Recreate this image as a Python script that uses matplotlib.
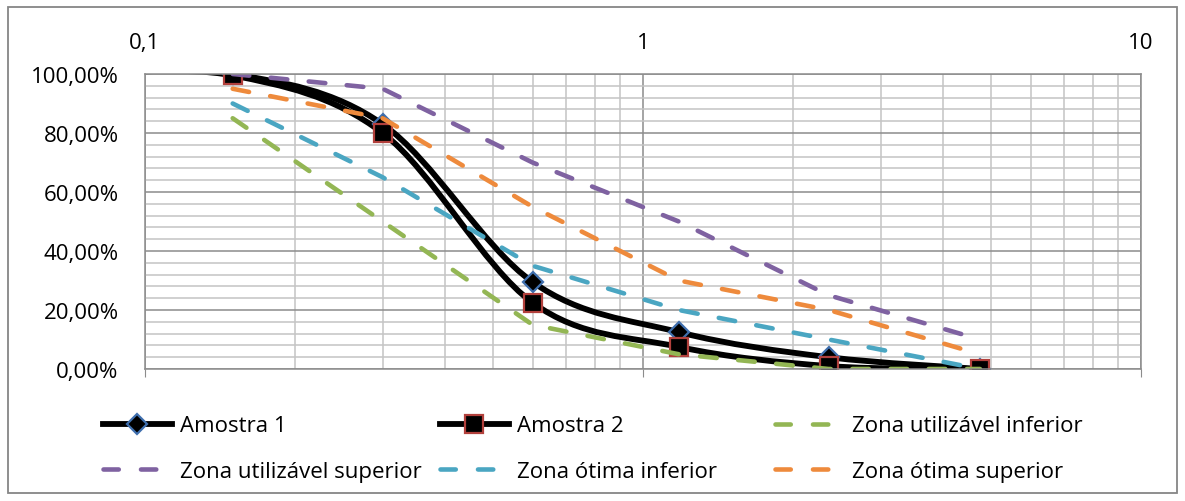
"""Curva granulométrica — Amostras 1 e 2 vs zonas da NBR 7211."""
import matplotlib
matplotlib.use("Agg")
import matplotlib.pyplot as plt
import numpy as np
from matplotlib.lines import Line2D
from matplotlib.patches import PathPatch, Rectangle
from matplotlib.path import Path
from matplotlib.ticker import FixedLocator, FuncFormatter, MultipleLocator

plt.rcParams["font.family"] = ["Open Sans", "DejaVu Sans"]
plt.rcParams["lines.scale_dashes"] = False

# sieve openings (mm) and cumulative % retained
SIEVES = [0.075, 0.15, 0.3, 0.6, 1.18, 2.36, 4.75]
AMOSTRA_1 = [100, 100, 83, 29.5, 12.5, 4, 0]
AMOSTRA_2 = [100, 99.5, 80, 22.5, 7.5, 1, 0]

ZONE_SIEVES = [0.15, 0.3, 0.6, 1.18, 2.36, 4.75]
UTIL_INF = [85, 50, 15, 5, 0, 0]
UTIL_SUP = [100, 95, 70, 50, 25, 10]
OTIMA_INF = [90, 65, 35, 20, 10, 0]
OTIMA_SUP = [95, 85, 55, 30, 20, 5]

X_TICKS = [0.1, 1, 10]
X_LABELS = ["0,1", "1", "10"]

C_PURPLE = "#7F62A1"
C_CYAN = "#4AA6C2"
C_ORANGE = "#EE8A3C"
C_GREEN = "#93B654"
C_BLUE_EDGE = "#3F6FAE"
C_RED_EDGE = "#B2403C"
FS = 16
BLACK_LW = 4.2
DASH_LW = 3.3
DASHES = (12, 15.5)


def smooth_path(xs, ys):
    """Excel-style smoothed line: cubic Bezier with Catmull-Rom tangents in log-x."""
    lx = np.log10(xs)
    y = np.asarray(ys, float)
    n = len(lx)
    verts = [(lx[0], y[0])]
    codes = [Path.MOVETO]
    for i in range(n - 1):
        p0 = max(i - 1, 0)
        p3 = min(i + 2, n - 1)
        c1 = (lx[i] + (lx[i + 1] - lx[p0]) / 6, y[i] + (y[i + 1] - y[p0]) / 6)
        c2 = (lx[i + 1] - (lx[p3] - lx[i]) / 6, y[i + 1] - (y[p3] - y[i]) / 6)
        verts += [c1, c2, (lx[i + 1], y[i + 1])]
        codes += [Path.CURVE4] * 3
    verts = np.array(verts)
    verts[:, 0] = 10 ** verts[:, 0]
    return Path(verts, codes)


W, H = 1185, 502
fig = plt.figure(figsize=(W / 100, H / 100), dpi=100)
ax = fig.add_axes([145 / W, 1 - 370 / H, (1141 - 145) / W, (370 - 75) / H])
ax.set_xscale("log")
ax.set_xlim(0.1, 10)
ax.set_ylim(0, 100)

# grid
ax.xaxis.set_major_locator(FixedLocator(X_TICKS))
ax.xaxis.set_major_formatter(FuncFormatter(lambda v, p: X_LABELS[X_TICKS.index(v)] if v in X_TICKS else ""))
ax.xaxis.set_minor_locator(FixedLocator([m * d for d in (0.1, 1) for m in range(2, 10)]))
ax.xaxis.set_minor_formatter(FuncFormatter(lambda v, p: ""))
ax.yaxis.set_major_locator(MultipleLocator(20))
ax.yaxis.set_minor_locator(MultipleLocator(4))
ax.yaxis.set_major_formatter(FuncFormatter(lambda v, p: f"{v:.2f}%".replace(".", ",")))
ax.grid(which="major", color="#8C8C8C", lw=1.1)
ax.grid(which="minor", color="#C4C4C4", lw=1.1)
ax.set_axisbelow(True)
for s in ax.spines.values():
    s.set_color("#8C8C8C")
    s.set_linewidth(1.1)
ax.tick_params(axis="x", which="major", bottom=True, top=False, labelbottom=False,
               labeltop=True, length=6, color="#8C8C8C", pad=9, labelsize=FS)
ax.tick_params(axis="x", which="minor", bottom=False, top=False)
ax.tick_params(axis="y", which="both", length=0, pad=19, labelsize=FS)

# samples (smoothed)
for ys, marker, ms, edge in [(AMOSTRA_1, "D", 10, C_BLUE_EDGE), (AMOSTRA_2, "s", 13, C_RED_EDGE)]:
    ax.add_patch(PathPatch(smooth_path(SIEVES, ys), fill=False, color="black",
                           lw=BLACK_LW, capstyle="round", joinstyle="round"))
    ax.plot(SIEVES, ys, ls="none", marker=marker, ms=ms, mfc="black", mec=edge, mew=1.6)

# NBR zones
zones = [(UTIL_INF, C_GREEN), (UTIL_SUP, C_PURPLE), (OTIMA_INF, C_CYAN), (OTIMA_SUP, C_ORANGE)]
for ys, c in zones:
    ax.plot(ZONE_SIEVES, ys, color=c, lw=DASH_LW, dashes=DASHES, dash_capstyle="round")

# legend (3 columns, Excel-style row-wise fill)
def h_line(marker, ms, edge):
    return Line2D([], [], color="black", lw=BLACK_LW, marker=marker, ms=ms,
                  mfc="black", mec=edge, mew=1.6)


def h_dash(c):
    return Line2D([], [], color=c, lw=DASH_LW, dashes=(11, 16), dash_capstyle="round")


columns = [
    ([h_line("D", 10, C_BLUE_EDGE), h_dash(C_PURPLE)], ["Amostra 1", "Zona utilizável superior"], 103),
    ([h_line("s", 13, C_RED_EDGE), h_dash(C_CYAN)], ["Amostra 2", "Zona ótima inferior"], 440),
    ([h_dash(C_GREEN), h_dash(C_ORANGE)], ["Zona utilizável inferior", "Zona ótima superior"], 775),
]
for handles, labels, x0 in columns:
    leg = fig.legend(handles, labels, loc="center left", bbox_to_anchor=(x0 / W, 1 - 449.5 / H),
                     frameon=False, fontsize=FS, handlelength=3.1, handletextpad=0.35,
                     labelspacing=1.1, borderpad=0, borderaxespad=0, numpoints=1)

fig.add_artist(Rectangle((8 / W, 8 / H), (1177 - 8) / W, (494 - 8) / H, transform=fig.transFigure,
                         fill=False, edgecolor="#868686", lw=1.3))

fig.savefig("out.png", dpi=100)
